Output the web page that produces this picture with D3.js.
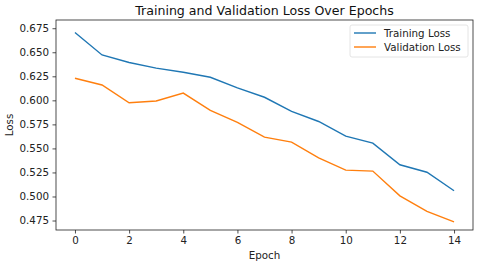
<!DOCTYPE html>
<html><head><meta charset="utf-8">
<script src="https://cdn.jsdelivr.net/npm/d3@7"></script>
<style>body{margin:0;background:#fff}svg{display:block;font-family:"DejaVu Sans",sans-serif}</style>
</head><body>
<script>
const epochs = [0,1,2,3,4,5,6,7,8,9,10,11,12,13,14];
const trainingLoss = [0.6705,0.6472,0.6393,0.6335,0.6292,0.6240,0.6130,0.6032,0.5885,0.5780,0.5627,0.5555,0.5330,0.5252,0.5060];
const validationLoss = [0.6230,0.6160,0.5975,0.5993,0.6075,0.5895,0.5770,0.5617,0.5565,0.5402,0.5274,0.5264,0.5007,0.4846,0.4736];
const xTicks = [0,2,4,6,8,10,12,14];
const yTicks = [0.475,0.500,0.525,0.550,0.575,0.600,0.625,0.650,0.675];

const W=480,H=263;
const m={l:56,r:7,t:20,b:33};
const FS=10.3;
const svg=d3.select("body").append("svg").attr("width",W).attr("height",H);
const x=d3.scaleLinear().domain([-0.7,14.7]).range([m.l,W-m.r]);
const y=d3.scaleLinear().domain([0.46515,0.68355]).range([H-m.b,m.t]);

const gx=svg.append("g").attr("transform",`translate(0,${H-m.b})`)
  .call(d3.axisBottom(x).tickValues(xTicks).tickFormat(d3.format("d")).tickSize(3.5).tickPadding(3.5));
const gy=svg.append("g").attr("transform",`translate(${m.l},0)`)
  .call(d3.axisLeft(y).tickValues(yTicks).tickFormat(d3.format(".3f")).tickSize(3.5).tickPadding(3.5));
[gx,gy].forEach(g=>{g.selectAll("text").attr("font-size",FS).attr("fill","#222").attr("font-family","DejaVu Sans");
  g.selectAll("line").attr("stroke","#222").attr("stroke-width",0.8);g.select(".domain").remove();});

const line=d3.line().x((d,i)=>x(epochs[i])).y(d=>y(d));
svg.append("path").datum(trainingLoss).attr("d",line).attr("fill","none").attr("stroke","#1f77b4").attr("stroke-width",1.4);
svg.append("path").datum(validationLoss).attr("d",line).attr("fill","none").attr("stroke","#ff7f0e").attr("stroke-width",1.4);

svg.append("rect").attr("x",m.l).attr("y",m.t).attr("width",W-m.r-m.l).attr("height",H-m.b-m.t)
  .attr("fill","none").attr("stroke","#222").attr("stroke-width",0.8);

svg.append("text").attr("x",(m.l+W-m.r)/2).attr("y",14.5).attr("text-anchor","middle").attr("font-size",12.6).attr("fill","#111")
  .text("Training and Validation Loss Over Epochs");
svg.append("text").attr("x",(m.l+W-m.r)/2).attr("y",259).attr("text-anchor","middle").attr("font-size",FS).attr("fill","#222").text("Epoch");
svg.append("text").attr("transform",`translate(13,${(m.t+H-m.b)/2}) rotate(-90)`).attr("text-anchor","middle").attr("font-size",FS).attr("fill","#222").text("Loss");

const lg=svg.append("g");
lg.append("rect").attr("x",350).attr("y",25).attr("width",118).attr("height",32).attr("rx",2)
  .attr("fill","#fff").attr("fill-opacity",0.8).attr("stroke","#ddd").attr("stroke-width",0.8);
const series=[["Training Loss","#1f77b4"],["Validation Loss","#ff7f0e"]];
series.forEach((s,i)=>{
  const yy=33+i*14;
  lg.append("line").attr("x1",354).attr("x2",376).attr("y1",yy).attr("y2",yy).attr("stroke",s[1]).attr("stroke-width",1.4);
  lg.append("text").attr("x",384).attr("y",yy+3.7).attr("font-size",FS).attr("fill","#222").text(s[0]);
});
</script>
</body></html>
